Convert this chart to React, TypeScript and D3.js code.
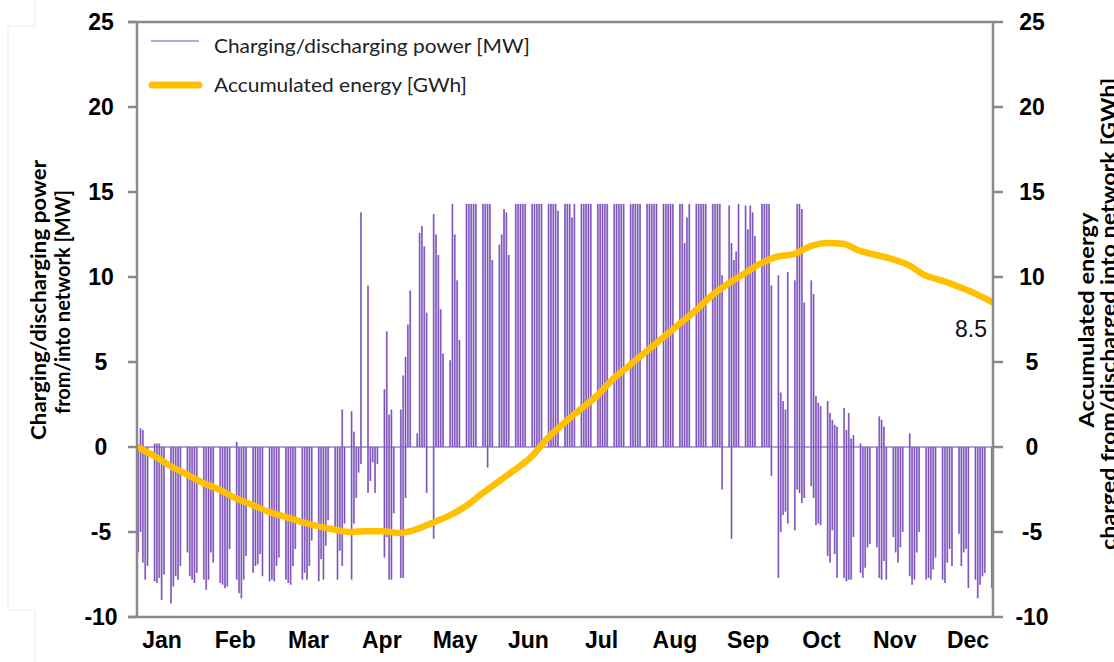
import React from 'react';
import * as d3 from 'd3';

const months = ['Jan', 'Feb', 'Mar', 'Apr', 'May', 'Jun', 'Jul', 'Aug', 'Sep', 'Oct', 'Nov', 'Dec'];
const yTicks = [-10, -5, 0, 5, 10, 15, 20, 25];

// daily peak charging power [MW], one row per week (Mon..Sun), Jan 1 is a Monday
const chargeMW = [
  [0, 1.1, 1.0, 0, 0, 0, 0],
  [0.2, 0.2, 0.2, 0, 0, 0, 0],
  [0, 0, 0, 0, 0, 0, 0],
  [0, 0, 0, 0, 0, 0, 0],
  [0, 0, 0, 0, 0, 0, 0],
  [0, 0, 0, 0, 0, 0, 0],
  [0.3, 0, 0, 0, 0, 0, 0],
  [0, 0, 0, 0, 0, 0, 0],
  [0, 0, 0, 0, 0, 0, 0],
  [0, 0, 0, 0, 0, 0, 0],
  [0, 0, 0, 0, 0, 0, 0],
  [0, 0, 0, 0, 0, 0, 0],
  [0, 0, 0, 2.2, 0, 0, 0],
  [2.1, 0.9, 0, 0, 13.8, 0, 0],
  [9.5, 0, 0, 0, 0, 0, 0],
  [3.4, 6.8, 1.9, 2.2, 0, 0, 0],
  [2.2, 4.2, 5.3, 7.2, 9.2, 0, 0],
  [0.8, 12.6, 13.0, 11.8, 7.9, 0, 0],
  [13.7, 12.5, 11.3, 8.1, 5.5, 0, 0],
  [5.1, 14.3, 12.5, 9.8, 6.3, 0, 0],
  [14.3, 14.3, 14.3, 14.3, 14.3, 0, 0],
  [14.3, 14.3, 14.3, 14.3, 11.0, 0, 0],
  [11.9, 12.5, 14.0, 13.8, 11.3, 0, 0],
  [14.3, 14.3, 14.3, 14.3, 14.3, 0, 0],
  [14.3, 14.3, 14.3, 14.3, 14.3, 0, 0],
  [14.3, 14.3, 14.3, 14.3, 13.9, 0, 0],
  [14.3, 14.3, 14.3, 13.5, 14.3, 0, 0],
  [14.3, 14.3, 14.3, 14.3, 14.3, 0, 0],
  [14.3, 14.3, 14.3, 14.3, 14.3, 0, 0],
  [14.3, 14.3, 14.3, 14.3, 14.3, 0, 0],
  [14.3, 14.3, 14.3, 14.3, 14.3, 0, 0],
  [14.3, 14.3, 14.3, 14.3, 14.3, 0, 0],
  [14.3, 14.3, 14.3, 14.3, 14.3, 0, 0],
  [14.3, 14.3, 12.0, 13.5, 14.3, 0, 0],
  [14.3, 14.3, 14.3, 14.3, 14.3, 0, 0],
  [14.3, 14.3, 14.3, 14.3, 10.1, 0, 0],
  [14.2, 12.0, 11.0, 11.5, 14.3, 0, 0],
  [14.2, 12.8, 14.2, 13.8, 12.4, 0, 0],
  [14.3, 14.3, 14.3, 14.3, 9.5, 0, 0],
  [10.1, 3.2, 2.7, 2.2, 10.3, 0, 0],
  [9.8, 14.3, 14.3, 14.0, 8.5, 0, 0],
  [9.8, 9.0, 3.0, 2.6, 2.4, 0, 0],
  [2.7, 2.0, 1.6, 1.3, 1.2, 0, 0],
  [2.3, 1.0, 2.0, 0.5, 0.7, 0, 0],
  [0.2, 0, 0, 0, 0, 0, 0],
  [0, 1.8, 1.6, 1.2, 0, 0, 0],
  [0, 0, 0, 0, 0, 0, 0],
  [0.8, 0, 0, 0, 0, 0, 0],
  [0, 0, 0, 0, 0, 0, 0],
  [0, 0, 0, 0, 0, 0, 0],
  [0, 0, 0, 0, 0, 0, 0],
  [0, 0, 0, 0, 0, 0, 0],
  [0],
];

// daily peak discharging power [MW]
const dischargeMW = [
  [-6.2, -5.0, -6.8, -7.8, -7.0, 0, 0],
  [-7.9, -8.0, -7.7, -9.0, -7.5, 0, 0],
  [-9.2, -8.2, -7.6, -7.8, -7.0, 0, 0],
  [-6.2, -7.6, -7.8, -8.0, -7.4, 0, 0],
  [-7.8, -8.4, -7.8, -6.2, -6.8, 0, 0],
  [-8.0, -8.1, -8.3, -8.2, -6.0, 0, 0],
  [-7.8, -8.6, -8.9, -7.8, -6.4, 0, 0],
  [-7.4, -7.0, -6.9, -6.3, -7.6, 0, 0],
  [-7.9, -7.8, -7.9, -7.0, -6.5, 0, 0],
  [-7.8, -8.0, -8.1, -7.0, -6.0, 0, 0],
  [-7.8, -7.4, -7.8, -7.0, -5.5, 0, 0],
  [-7.9, -6.6, -7.8, -5.8, -4.3, 0, 0],
  [-4.7, -7.8, -6.1, -7.0, -4.5, 0, 0],
  [-7.8, -4.5, -3.0, -1.5, -1.0, 0, 0],
  [-2.7, -2.0, -0.9, -2.7, -1.0, 0, 0],
  [-6.5, -5.3, -7.8, -7.8, -3.9, 0, 0],
  [-7.7, -7.7, -3.0, 0, 0, 0, 0],
  [0, 0, 0, 0, -2.7, 0, 0],
  [-5.4, 0, 0, 0, 0, 0, 0],
  [0, 0, 0, 0, 0, 0, 0],
  [0, 0, 0, 0, 0, 0, 0],
  [0, 0, -1.2, 0, 0, 0, 0],
  [0, 0, 0, 0, 0, 0, 0],
  [0, 0, 0, 0, 0, 0, 0],
  [0, 0, 0, 0, 0, 0, 0],
  [0, 0, 0, 0, 0, 0, 0],
  [0, 0, 0, 0, 0, 0, 0],
  [0, 0, 0, 0, 0, 0, 0],
  [0, 0, 0, 0, 0, 0, 0],
  [0, 0, 0, 0, 0, 0, 0],
  [0, 0, 0, 0, 0, 0, 0],
  [0, 0, 0, 0, 0, 0, 0],
  [0, 0, 0, 0, 0, 0, 0],
  [0, 0, 0, 0, 0, 0, 0],
  [0, 0, 0, 0, 0, 0, 0],
  [0, 0, 0, 0, -2.5, 0, 0],
  [0, -5.4, 0, 0, 0, 0, 0],
  [0, 0, 0, 0, 0, 0, 0],
  [0, 0, 0, 0, -1.7, 0, 0],
  [-7.7, -5.0, -4.0, -3.8, -4.5, 0, 0],
  [-4.9, -2.5, -2.7, -3.3, -3.0, 0, 0],
  [-2.3, -3.0, -4.6, -4.5, -4.6, 0, 0],
  [-6.4, -6.8, -4.9, -6.3, -7.7, 0, 0],
  [-7.7, -7.9, -7.8, -7.8, -5.3, 0, 0],
  [-7.4, -7.7, -7.1, -5.9, -5.7, 0, 0],
  [-5.9, -7.7, -7.8, -6.7, -7.8, 0, 0],
  [-5.3, -6.2, -6.8, -5.9, -5.0, 0, 0],
  [-7.6, -8.1, -7.8, -6.2, -5.0, 0, 0],
  [-7.8, -7.7, -7.8, -7.2, -6.5, 0, 0],
  [-7.8, -8.0, -6.8, -6.0, -7.0, 0, 0],
  [-5.1, -7.0, -6.2, -6.0, -8.3, 0, 0],
  [-7.8, -8.9, -8.1, -7.6, -7.4, 0, 0],
  [-8.3],
];

// accumulated energy [GWh], read weekly
const energyDays = [
  0, 7, 14, 21, 28, 35, 42, 49, 56, 63, 70, 77, 84, 91, 98, 105, 112, 119, 126, 133, 140, 147, 154, 161, 168, 175,
  182, 189, 196, 203, 210, 217, 224, 231, 238, 245, 252, 259, 266, 273, 280, 287, 294, 301, 308, 315, 322, 329, 336,
  343, 350, 357, 365,
];
const energyGWh = [
  0, -0.5, -1.1, -1.6, -2.1, -2.5, -3.0, -3.4, -3.8, -4.1, -4.4, -4.65, -4.85, -5.0, -4.95, -4.95, -5.06, -4.85,
  -4.45, -4.05, -3.5, -2.75, -2.05, -1.35, -0.6, 0.5, 1.4, 2.2, 3.0, 4.0, 4.8, 5.6, 6.4, 7.2, 8.0, 8.9, 9.6, 10.2,
  10.8, 11.2, 11.35, 11.8, 12.0, 11.95, 11.55, 11.3, 11.05, 10.7, 10.1, 9.8, 9.45, 9.05, 8.5,
];

const W = 1114;
const H = 662;
const purpleLight = '#9d80d2';
const purpleDark = '#6733a8';
const gold = '#FFC000';
const axisGrey = '#8a8a8a';

const App = () => {
  const x = d3.scaleLinear().domain([0, 365]).range([137, 993]);
  const y = d3.scaleLinear().domain([-10, 25]).range([617, 22]);
  const monthX = d3.scalePoint<string>().domain(months).range([162, 968]);
  const dayW = x(1) - x(0);

  const charge = chargeMW.flat();
  const discharge = dischargeMW.flat();
  const days = charge
    .map((c, i) => ({ day: i, hi: c, lo: discharge[i] }))
    .filter((d) => d.hi !== 0 || d.lo !== 0);

  const energy = energyDays.map((d, i) => [d, energyGWh[i]] as [number, number]);
  const energyLine = d3
    .line<[number, number]>()
    .x((d) => x(d[0]))
    .y((d) => y(d[1]))
    .curve(d3.curveMonotoneX);

  const tickFont = { fontFamily: '"Liberation Sans", Arial, sans-serif', fontWeight: 700, fontSize: 23 };
  const titleFont = { fontFamily: 'Lato, sans-serif', fontWeight: 700, fontSize: 20 };

  return (
    <svg width={W} height={H} style={{ position: 'absolute', left: 0, top: 0, background: '#fff' }}>
      <rect width={W} height={H} fill="#fff" />
      <path d="M35,0V26H8V610H35V662" fill="none" stroke="#ececec" strokeWidth={1} />

      {/* zero line of the power series */}
      <line x1={x(0)} x2={x(365)} y1={y(0)} y2={y(0)} stroke="#9b82cc" strokeWidth={1.5} />

      {/* daily power spikes */}
      <g>
        {days.map((d) => (
          <rect
            key={'b' + d.day}
            x={x(d.day) + 0.2}
            width={dayW - 0.4}
            y={y(d.hi)}
            height={y(d.lo) - y(d.hi)}
            fill={purpleLight}
            fillOpacity={0.85}
          />
        ))}
        {days.map((d) => (
          <line
            key={'c' + d.day}
            x1={x(d.day + 0.5)}
            x2={x(d.day + 0.5)}
            y1={y(d.hi)}
            y2={y(d.lo)}
            stroke={purpleDark}
            strokeWidth={0.9}
            strokeOpacity={0.8}
          />
        ))}
      </g>

      {/* accumulated energy */}
      <path d={energyLine(energy) || ''} fill="none" stroke={gold} strokeWidth={6.5} strokeLinejoin="round" />

      {/* frame and axes */}
      <g stroke={axisGrey} strokeWidth={2.5} fill="none">
        <line x1={128} x2={x(365)} y1={y(25)} y2={y(25)} />
        <line x1={128} x2={x(365)} y1={y(-10)} y2={y(-10)} />
        <line x1={x(0)} x2={x(0)} y1={y(25)} y2={y(-10)} />
        <line x1={x(365)} x2={x(365)} y1={y(25)} y2={y(-10)} />
        {yTicks.map((t) => (
          <line key={'l' + t} x1={128} x2={x(0)} y1={y(t)} y2={y(t)} />
        ))}
        {yTicks.map((t) => (
          <line key={'r' + t} x1={x(365)} x2={1003} y1={y(t)} y2={y(t)} />
        ))}
      </g>

      <g {...tickFont} fill="#000" textAnchor="middle">
        {yTicks.map((t) => (
          <text key={'tl' + t} x={101} y={y(t) + 8}>
            {t}
          </text>
        ))}
        {yTicks.map((t) => (
          <text key={'tr' + t} x={1032} y={y(t) + 8}>
            {t}
          </text>
        ))}
        {months.map((m) => (
          <text key={m} x={monthX(m)} y={648}>
            {m}
          </text>
        ))}
      </g>

      {/* legend */}
      <line x1={151} x2={199} y1={41} y2={41} stroke="#a58bd6" strokeWidth={1.5} />
      <line x1={152} x2={199} y1={85} y2={85} stroke={gold} strokeWidth={7} strokeLinecap="round" />
      <g fontFamily="Lato, sans-serif" fontSize={20} fill="#222">
        <text x={214} y={53} textLength={316} lengthAdjust="spacingAndGlyphs">
          Charging/discharging power [MW]
        </text>
        <text x={214} y={92} textLength={253} lengthAdjust="spacingAndGlyphs">
          Accumulated energy [GWh]
        </text>
      </g>

      {/* annotation */}
      <text
        x={987}
        y={337}
        textAnchor="end"
        fontFamily='"Liberation Sans", Arial, sans-serif'
        fontSize={23}
        fill="#111"
      >
        8.5
      </text>

      {/* axis titles */}
      <g {...titleFont} fill="#000" textAnchor="middle">
        <text transform="translate(46,300) rotate(-90)" textLength={280} lengthAdjust="spacingAndGlyphs">
          Charging/discharging power
        </text>
        <text transform="translate(70,302) rotate(-90)">from/into network [MW]</text>
        <text transform="translate(1094,320) rotate(-90)" textLength={215} lengthAdjust="spacingAndGlyphs">
          Accumulated energy
        </text>
        <text transform="translate(1116,314) rotate(-90)" textLength={472} lengthAdjust="spacingAndGlyphs">
          charged from/discharged into network [GWh]
        </text>
      </g>
    </svg>
  );
};

export default App;
